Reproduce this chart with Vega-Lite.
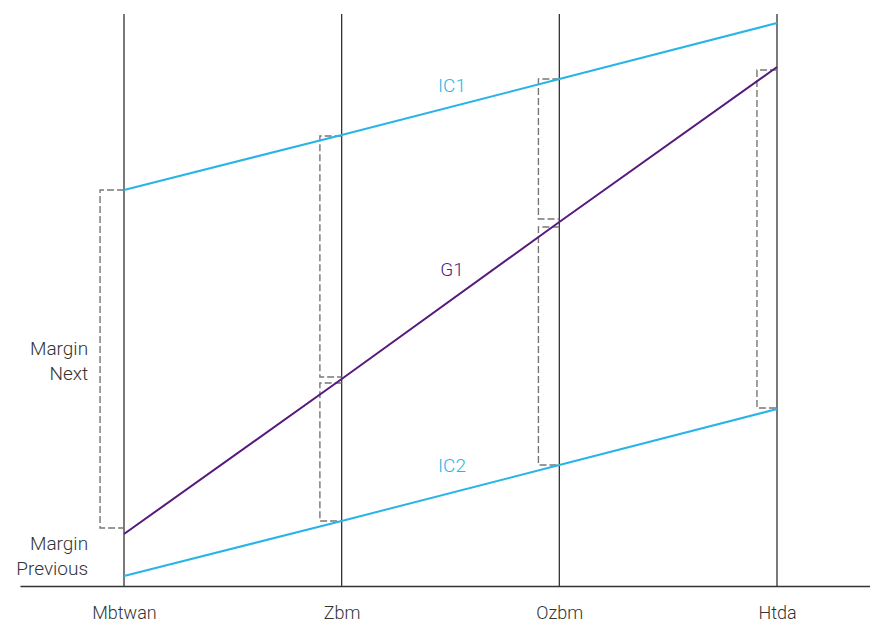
{
  "$schema": "https://vega.github.io/schema/vega-lite/v6.json",
  "width": 850,
  "height": 586,
  "autosize": {"type": "none"},
  "padding": {"left": 20, "top": 0, "right": 0, "bottom": 37},
  "background": "white",
  "config": {"view": {"stroke": null}, "font": "Roboto"},
  "datasets": {
    "verticals": [
      {"pos": 0, "name": "Mbtwan", "bottom": 0, "top": 572},
      {"pos": 1, "name": "Zbm", "bottom": 0, "top": 572},
      {"pos": 2, "name": "Ozbm", "bottom": 0, "top": 572},
      {"pos": 3, "name": "Htda", "bottom": 0, "top": 572}
    ],
    "series": [
      {"series": "IC1", "pos": 0, "value": 396},
      {"series": "IC1", "pos": 1, "value": 451},
      {"series": "IC1", "pos": 2, "value": 507},
      {"series": "IC1", "pos": 3, "value": 563},
      {"series": "G1", "pos": 0, "value": 52},
      {"series": "G1", "pos": 1, "value": 207},
      {"series": "G1", "pos": 2, "value": 364},
      {"series": "G1", "pos": 3, "value": 519},
      {"series": "IC2", "pos": 0, "value": 10},
      {"series": "IC2", "pos": 1, "value": 65},
      {"series": "IC2", "pos": 2, "value": 121},
      {"series": "IC2", "pos": 3, "value": 177}
    ],
    "brackets": [
      {"id": "b1", "k": 0, "pos": 0, "value": 396},
      {"id": "b1", "k": 1, "pos": -0.11, "value": 396},
      {"id": "b1", "k": 2, "pos": -0.11, "value": 58},
      {"id": "b1", "k": 3, "pos": 0, "value": 58},
      {"id": "b2", "k": 0, "pos": 1, "value": 450},
      {"id": "b2", "k": 1, "pos": 0.9, "value": 450},
      {"id": "b2", "k": 2, "pos": 0.9, "value": 209},
      {"id": "b2", "k": 3, "pos": 1, "value": 209},
      {"id": "b3", "k": 0, "pos": 1, "value": 203},
      {"id": "b3", "k": 1, "pos": 0.9, "value": 203},
      {"id": "b3", "k": 2, "pos": 0.9, "value": 65},
      {"id": "b3", "k": 3, "pos": 1, "value": 65},
      {"id": "b4", "k": 0, "pos": 2, "value": 507},
      {"id": "b4", "k": 1, "pos": 1.904, "value": 507},
      {"id": "b4", "k": 2, "pos": 1.904, "value": 367},
      {"id": "b4", "k": 3, "pos": 2, "value": 367},
      {"id": "b5", "k": 0, "pos": 2, "value": 359},
      {"id": "b5", "k": 1, "pos": 1.904, "value": 359},
      {"id": "b5", "k": 2, "pos": 1.904, "value": 121},
      {"id": "b5", "k": 3, "pos": 2, "value": 121},
      {"id": "b6", "k": 0, "pos": 3, "value": 516},
      {"id": "b6", "k": 1, "pos": 2.908, "value": 516},
      {"id": "b6", "k": 2, "pos": 2.908, "value": 178},
      {"id": "b6", "k": 3, "pos": 3, "value": 178}
    ],
    "labels": [
      {"text": "IC1", "pos": 1.507, "value": 500, "series": "IC1"},
      {"text": "G1", "pos": 1.507, "value": 316, "series": "G1"},
      {"text": "IC2", "pos": 1.507, "value": 120, "series": "IC2"}
    ],
    "margins": [
      {"text": ["Margin", "Next"], "pos": -0.165, "value": 237},
      {"text": ["Margin", "Previous"], "pos": -0.165, "value": 42}
    ]
  },
  "layer": [
    {
      "data": {"name": "verticals"},
      "mark": {"type": "rule", "color": "#333333", "strokeWidth": 1.3},
      "encoding": {
        "x": {
          "field": "pos", "type": "quantitative",
          "scale": {"domain": [-0.4778, 3.4273], "nice": false, "zero": false},
          "axis": {
            "values": [0, 1, 2, 3],
            "labelExpr": "['Mbtwan','Zbm','Ozbm','Htda'][datum.value]",
            "title": null, "grid": false, "ticks": false,
            "domainColor": "#333333", "domainWidth": 1.3,
            "labelFontSize": 18, "labelColor": "#333333", "labelPadding": 18,
            "labelFont": "Roboto", "labelFontWeight": 300
          }
        },
        "y": {
          "field": "bottom", "type": "quantitative",
          "scale": {"domain": [0, 586], "nice": false, "zero": false},
          "axis": null
        },
        "y2": {"field": "top"}
      }
    },
    {
      "data": {"name": "brackets"},
      "mark": {"type": "line", "color": "#777777", "strokeWidth": 1.4, "strokeDash": [7, 3]},
      "encoding": {
        "x": {"field": "pos", "type": "quantitative"},
        "y": {"field": "value", "type": "quantitative"},
        "detail": {"field": "id"},
        "order": {"field": "k"}
      }
    },
    {
      "data": {"name": "series"},
      "mark": {"type": "line", "strokeWidth": 2},
      "encoding": {
        "x": {"field": "pos", "type": "quantitative"},
        "y": {"field": "value", "type": "quantitative"},
        "color": {
          "field": "series", "type": "nominal",
          "scale": {"domain": ["IC1", "G1", "IC2"], "range": ["#29b4e8", "#561a7e", "#29b4e8"]},
          "legend": null
        },
        "detail": {"field": "series"}
      }
    },
    {
      "data": {"name": "labels"},
      "mark": {"type": "text", "fontSize": 19, "fontWeight": 300, "align": "center", "baseline": "middle", "font": "Roboto"},
      "encoding": {
        "x": {"field": "pos", "type": "quantitative"},
        "y": {"field": "value", "type": "quantitative"},
        "text": {"field": "text"},
        "color": {"field": "series", "type": "nominal", "legend": null}
      }
    },
    {
      "data": {"name": "margins"},
      "mark": {"type": "text", "fontSize": 19, "fontWeight": 300, "align": "right", "baseline": "middle", "color": "#333333", "lineHeight": 25, "font": "Roboto"},
      "encoding": {
        "x": {"field": "pos", "type": "quantitative"},
        "y": {"field": "value", "type": "quantitative"},
        "text": {"field": "text"}
      }
    }
  ]
}
